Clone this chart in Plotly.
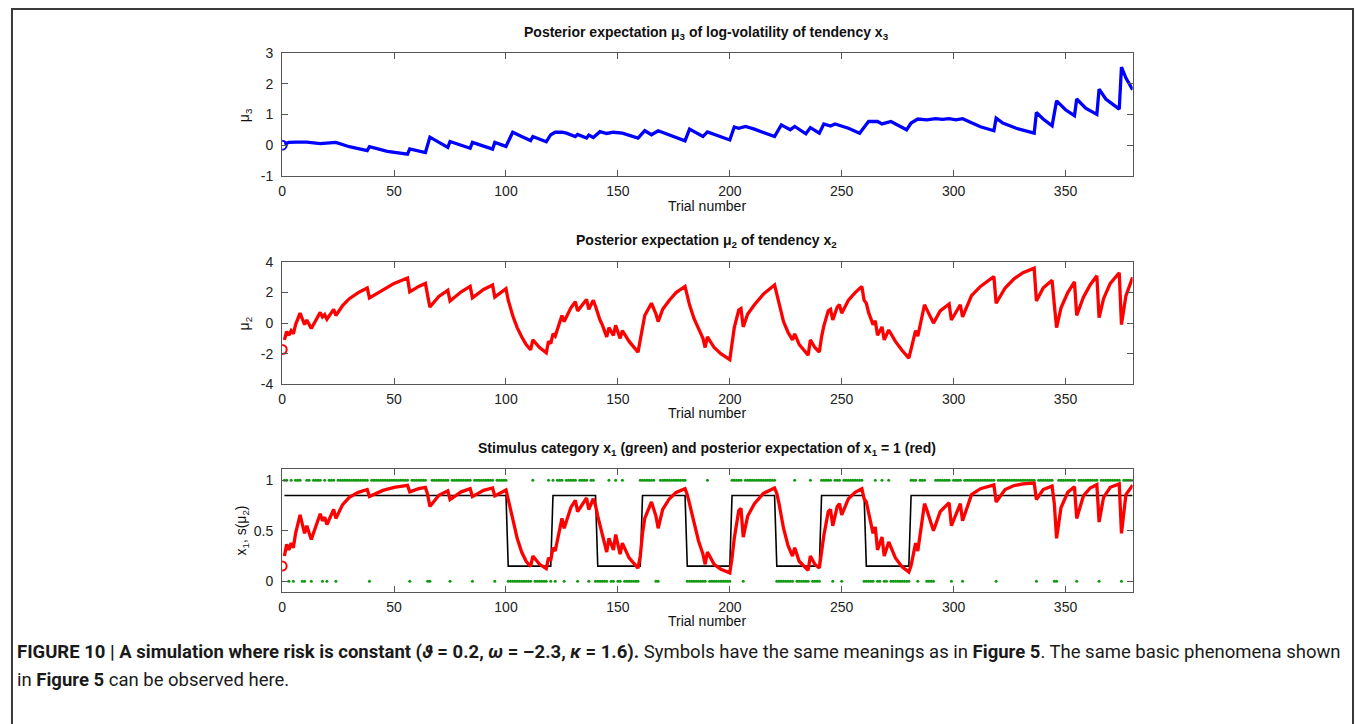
import plotly.graph_objects as go
import math

W, H = 1356, 724

# ---------------- data ----------------
# mu3 : posterior expectation of log-volatility (trial, value)
mu3_trials = [1, 3, 6, 11, 17, 21, 24, 30, 38, 39, 47, 56, 57, 64, 66, 74, 75, 84, 85, 94, 95, 100,
              103, 107, 111, 112, 118, 120, 122, 125, 127, 131, 132, 136, 137, 139, 142, 145, 148, 152,
              159, 162, 165, 168, 174, 180, 182, 188, 190, 195, 200, 202, 204, 207, 211, 220, 223, 227,
              229, 234, 236, 240, 242, 245, 247, 253, 258, 262, 266, 268, 272, 279, 281, 284, 288, 292,
              295, 298, 301, 304, 307, 312, 318, 319, 322, 328, 336, 337, 340, 344, 346, 350, 354, 355,
              359, 364, 365, 368, 374, 375, 377, 380]
mu3_values = [0.04, 0.09, 0.10, 0.10, 0.05, 0.07, 0.09, -0.05, -0.18, -0.05, -0.20, -0.29, -0.12, -0.24,
              0.26, -0.07, 0.12, -0.10, 0.09, -0.13, 0.09, -0.04,
              0.42, 0.28, 0.15, 0.28, 0.11, 0.34, 0.42, 0.42, 0.39, 0.28, 0.35, 0.23, 0.33, 0.25, 0.44,
              0.38, 0.42, 0.39,
              0.23, 0.47, 0.34, 0.47, 0.30, 0.14, 0.52, 0.28, 0.43, 0.30, 0.17, 0.59, 0.55, 0.61, 0.52,
              0.28, 0.66, 0.50,
              0.61, 0.37, 0.57, 0.39, 0.69, 0.62, 0.69, 0.55, 0.39, 0.77, 0.77, 0.69, 0.77, 0.50, 0.72,
              0.85, 0.82, 0.86,
              0.84, 0.86, 0.82, 0.86, 0.77, 0.60, 0.47, 0.88, 0.72, 0.55, 0.39, 1.06, 0.85, 0.63, 1.44,
              1.15, 0.96, 1.50,
              1.20, 1.00, 1.82, 1.50, 1.17, 2.54, 2.18, 1.80]
mu3_prior = 0.0

# mu2 : posterior expectation of tendency (trial, value)
mu2_trials = [1, 2, 3, 4, 5, 6, 8, 10, 11, 13, 17, 18, 19, 20, 23, 24, 27, 30, 34, 38, 39, 45, 50, 56,
              57, 61, 64, 65, 66, 70, 74, 75, 80, 84, 85, 90, 94, 95, 100, 101, 102, 103, 104, 105, 107,
              109, 111, 112, 115, 118, 119, 120, 121, 122, 125, 126, 129, 131, 132, 136, 137, 139, 140,
              141, 142, 143, 145, 146, 148, 149, 151, 152, 155, 159, 160, 161, 162, 165, 167, 168, 170,
              173, 176, 180, 181, 182, 184, 186, 188, 189, 190, 193, 196, 200, 201, 202, 204, 205, 206,
              208, 211, 215, 220, 221, 222, 224, 226, 228, 229, 231, 235, 236, 238, 240, 241, 242, 244,
              245, 246, 248, 249, 250, 253, 256, 259, 260, 261, 262, 264, 265, 266, 268, 269, 271, 272,
              274, 277, 280, 281, 282, 283, 284, 287, 288, 289, 290, 291, 294, 298, 299, 303, 304, 308,
              312, 318, 319, 323, 327, 331, 336, 337, 340, 344, 345, 346, 348, 351, 354, 355, 358, 361,
              364, 365, 367, 370, 374, 375, 377, 380]
mu2_values = [-1.10, -0.55, -0.80, -0.50, -0.70, -0.10, 0.65, -0.10, 0.20, -0.35, 0.70, 0.40, 0.55, 0.25,
              0.90, 0.50, 1.15, 1.60, 2.00, 2.30, 1.65, 2.20, 2.60, 2.95,
              2.05, 2.40, 2.60, 1.80, 1.05, 1.75, 2.15, 1.45, 2.05, 2.40, 1.65, 2.20, 2.50, 1.70, 2.25,
              1.50, 0.90, 0.50, 0.10, -0.30, -0.90,
              -1.40, -1.75, -1.10, -1.60, -1.95, -1.20, -1.35, -0.70, -0.85, 0.50, 0.10, 1.00, 1.40,
              0.80, 1.55, 0.90, 1.50, 1.10,
              0.60, 0.20, -0.10, -0.90, -0.30, -0.80, -0.15, -1.00, -0.50, -1.20, -1.90, -1.10, -0.10,
              0.50, 1.30, 0.60, 0.10, 0.90,
              1.50, 2.00, 2.40, 1.80, 1.20, 0.30, -0.40, -1.00, -1.60, -0.90, -1.60, -2.00, -2.40,
              -1.20, -0.30, 0.85, 0.95, -0.25,
              0.60, 1.20, 1.90, 2.50, 1.90, 1.20, 0.10, -0.60, -1.10, -0.70, -1.40, -2.10, -1.10, -1.60,
              -1.90, -0.90, -0.20, 0.80,
              0.90, 0.20, 1.05, 1.20, 0.65, 1.50, 2.00, 2.40, 1.50, 1.30, 0.70, -0.10, 0.15, -0.80,
              -0.25, -1.10, -0.45, -0.70,
              -1.20, -1.80, -2.30, -1.70, -1.10, -0.50, -0.85, 1.20, 0.90, 0.60, 0.30, 0.00, 0.80, 1.25,
              0.20, 1.20, 0.40, 1.80,
              2.40, 3.05, 1.30, 2.30, 2.90, 3.30, 3.60, 1.45, 2.30, 2.80, 1.20, -0.30, 1.00, 2.00, 2.70,
              0.50, 1.70, 2.50,
              3.10, 0.35, 1.60, 2.60, 3.30, -0.10, 1.80, 3.00]
mu2_prior = -1.73

# stimulus category x1 per trial (trials 1..380), read in blocks of 20 trials
stimulus_blocks = [
    "11010111001101111010",  # 1-20
    "11101111111111111101",  # 21-40
    "11111111111111110111",  # 41-60
    "11110011111111011111",  # 61-80
    "11110111111111011111",  # 81-100
    "00000000000100000010",  # 101-120
    "10111011111011110110",  # 121-140
    "00000100100100000001",  # 141-160
    "11111100111111111111",  # 161-180
    "00000000010000000000",  # 181-200
    "11111011111111111111",  # 201-220
    "00000000100000010000",  # 221-240
    "11111011101111111110",  # 241-260
    "00001001001000000000",  # 261-280
    "11101110000111111101",  # 281-300
    "11101111111111111101",  # 301-320
    "11111111111111110111",  # 321-340
    "11110011111111011111",  # 341-360
    "11110111111111011111",  # 361-380
]

# true probability of x1 = 1 (black line): block start / end trials and level
prob_block_starts = [1, 101, 121, 141, 161, 181, 201, 221, 241, 261, 281]
prob_block_ends = [100, 120, 140, 160, 180, 200, 220, 240, 260, 280, 380]
prob_block_levels = [0.85, 0.15, 0.85, 0.15, 0.85, 0.15, 0.85, 0.15, 0.85, 0.15, 0.85]

x_ticks = [0, 50, 100, 150, 200, 250, 300, 350]
y3_ticks = [-1, 0, 1, 2, 3]
y3_ticklabels = ["-1", "0", "1", "2", "3"]
y2_ticks = [-4, -2, 0, 2, 4]
y2_ticklabels = ["-4", "-2", "0", "2", "4"]
y1_ticks = [0, 0.5, 1]
y1_ticklabels = ["0", "0.5", "1"]

# ---------------- derived ----------------
def sgm(v):
    return 1.0 / (1.0 + math.exp(-v))

stim = "".join(stimulus_blocks)
stim_trials = list(range(1, len(stim) + 1))
stim_vals = [int(c) for c in stim]

prob_x, prob_y = [], []
for s, e, lv in zip(prob_block_starts, prob_block_ends, prob_block_levels):
    prob_x += [s, e]
    prob_y += [lv, lv]

# ---------------- geometry helpers ----------------
# the photographed page is slightly squeezed vertically: compensate
V_OFF, V_SCALE = 8.2, 0.977

def px(x):
    return x / W

def py(y):
    return 1 - ((y - V_OFF) / V_SCALE) / H

X0, X1 = 279, 1132
panels = {"top": (53, 176), "mid": (262, 384), "bot": (469, 592)}

FONT = "Liberation Sans, Arial, Helvetica, sans-serif"
AX = "#555555"
TICKFONT = dict(family=FONT, size=14, color="#222222")
LW = 3.3

fig = go.Figure()

# top panel
fig.add_trace(go.Scatter(x=mu3_trials, y=mu3_values, mode="lines",
                         line=dict(color="#0000ff", width=LW), xaxis="x", yaxis="y",
                         showlegend=False, hoverinfo="skip"))
fig.add_trace(go.Scatter(x=[0], y=[mu3_prior], mode="markers",
                         marker=dict(symbol="circle-open", size=9, color="#0000ff", line=dict(width=2)),
                         xaxis="x", yaxis="y", showlegend=False))
# middle panel
fig.add_trace(go.Scatter(x=mu2_trials, y=mu2_values, mode="lines",
                         line=dict(color="#ff0000", width=LW), xaxis="x2", yaxis="y2",
                         showlegend=False))
fig.add_trace(go.Scatter(x=[0], y=[mu2_prior], mode="markers",
                         marker=dict(symbol="circle-open", size=9, color="#ff0000", line=dict(width=2)),
                         xaxis="x2", yaxis="y2", showlegend=False))
# bottom panel
fig.add_trace(go.Scatter(x=prob_x, y=prob_y, mode="lines",
                         line=dict(color="#000000", width=1.6), xaxis="x3", yaxis="y3",
                         showlegend=False))
fig.add_trace(go.Scatter(x=stim_trials, y=stim_vals, mode="markers",
                         marker=dict(symbol="circle", size=3, color="#119911"),
                         xaxis="x3", yaxis="y3", showlegend=False))
fig.add_trace(go.Scatter(x=mu2_trials, y=[sgm(v) for v in mu2_values], mode="lines",
                         line=dict(color="#ff0000", width=LW), xaxis="x3", yaxis="y3",
                         showlegend=False))
fig.add_trace(go.Scatter(x=[0], y=[sgm(mu2_prior)], mode="markers",
                         marker=dict(symbol="circle-open", size=9, color="#ff0000", line=dict(width=2)),
                         xaxis="x3", yaxis="y3", showlegend=False))

def xaxis(anchor):
    return dict(domain=[px(X0), px(X1)], anchor=anchor, range=[0, 380], tickvals=x_ticks,
                ticks="inside", ticklen=6, tickcolor=AX, showline=True, linecolor=AX, linewidth=1.2,
                mirror="ticks", showgrid=False, zeroline=False, tickfont=TICKFONT,
                ticklabelstandoff=2)

def yaxis(anchor, top, bot, rng, tv, tt):
    return dict(domain=[py(bot), py(top)], anchor=anchor, range=rng, tickvals=tv, ticktext=tt,
                ticks="inside", ticklen=6, tickcolor=AX, showline=True, linecolor=AX, linewidth=1.2,
                mirror="ticks", showgrid=False, zeroline=False, tickfont=TICKFONT,
                ticklabelstandoff=5)

t, b = panels["top"]
m_t, m_b = panels["mid"]
b_t, b_b = panels["bot"]

annotations = []
def ann(text, x, y, size=14, bold=False, angle=0, xanchor="center", family=FONT, color="#111111"):
    annotations.append(dict(text=("<b>%s</b>" % text) if bold else text, x=px(x), y=py(y),
                            xref="paper", yref="paper", showarrow=False, xanchor=xanchor,
                            yanchor="middle", textangle=angle,
                            font=dict(family=family, size=size, color=color)))

ann("Posterior expectation μ<sub>3</sub> of log-volatility of tendency x<sub>3</sub>", 705, 33, 14, True)
ann("Posterior expectation μ<sub>2</sub> of tendency x<sub>2</sub>", 705, 241, 14, True)
ann("Stimulus category x<sub>1</sub> (green) and posterior expectation of x<sub>1</sub> = 1 (red)",
    705, 449, 14, True)
for yy in (206, 413, 621):
    ann("Trial number", 705, yy, 14)
ann("μ<sub>3</sub>", 242, 115, 14, angle=-90)
ann("μ<sub>2</sub>", 242, 323, 14, angle=-90)
ann("x<sub>1</sub>, s(μ<sub>2</sub>)", 239, 530, 14, angle=-90)

CAP = "Roboto, Liberation Sans, sans-serif"
ann("<b>FIGURE 10 | A simulation where risk is constant (<i>ϑ</i> = 0.2, <i>ω</i> = –2.3, <i>κ</i> = 1.6).</b>"
    " Symbols have the same meanings as in <b>Figure 5</b>. The same basic phenomena shown",
    11, 652, 18.5, xanchor="left", family=CAP, color="#1a1a1a")
ann("in <b>Figure 5</b> can be observed here.", 11, 680, 18.5, xanchor="left", family=CAP, color="#1a1a1a")

fig.update_layout(
    width=W, height=H, margin=dict(l=0, r=0, t=0, b=0),
    paper_bgcolor="white", plot_bgcolor="white",
    xaxis=xaxis("y"), yaxis=yaxis("x", t, b, [-1, 3], y3_ticks, y3_ticklabels),
    xaxis2=xaxis("y2"), yaxis2=yaxis("x2", m_t, m_b, [-4, 4], y2_ticks, y2_ticklabels),
    xaxis3=xaxis("y3"), yaxis3=yaxis("x3", b_t, b_b, [-0.11, 1.11], y1_ticks, y1_ticklabels),
    annotations=annotations,
    shapes=[dict(type="rect", xref="paper", yref="paper", x0=px(8), x1=px(1353), y0=-0.05,
                 y1=1 - 1.0 / H, line=dict(color="#3a3a3a", width=2))],
)

fig.write_html("out.html", config={"displayModeBar": False},
               post_script="document.body.style.margin='0px';"
                           "document.documentElement.style.overflow='hidden';"
                           "document.body.style.overflow='hidden';")
